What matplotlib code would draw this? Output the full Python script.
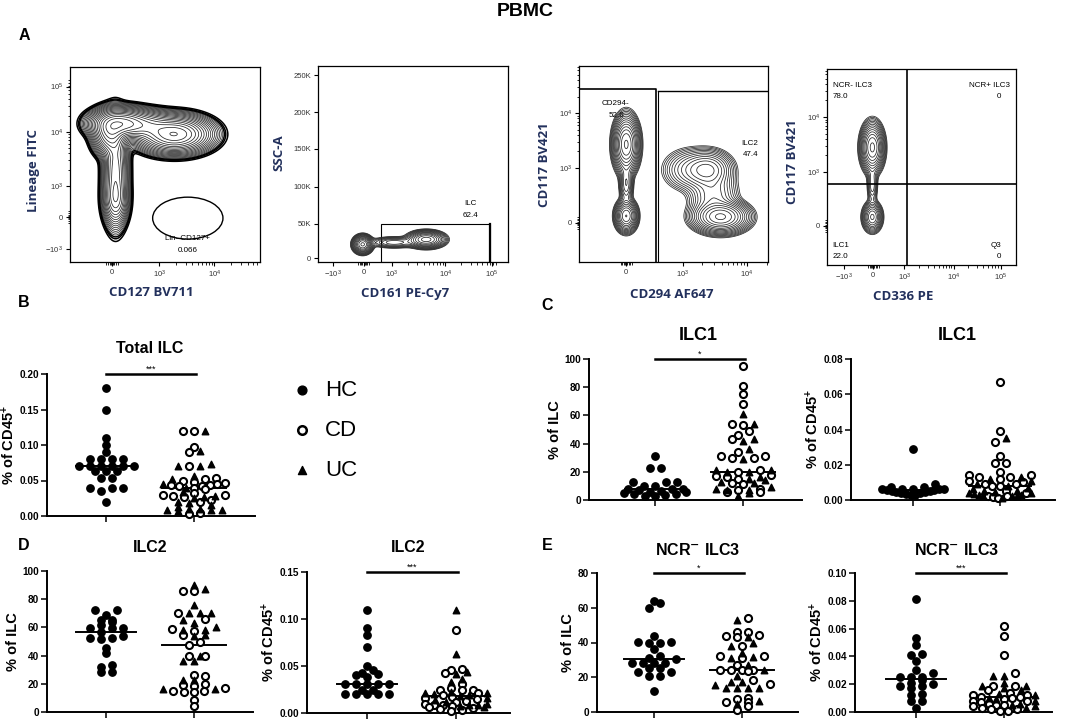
import numpy as np
import matplotlib
matplotlib.use("Agg")
import matplotlib.pyplot as plt
from matplotlib.patches import Ellipse, Rectangle

plt.rcParams["font.family"] = ["Liberation Sans", "DejaVu Sans"]
plt.rcParams["mathtext.default"] = "regular"

W, H = 1084, 720

# ---------------- dot plot data ----------------
TOTAL_HC = [0.18, 0.15, 0.11, 0.10, 0.09, 0.08, 0.08, 0.08, 0.08, 0.07, 0.07, 0.07, 0.07,
            0.07, 0.07, 0.063, 0.063, 0.063, 0.053, 0.053, 0.04, 0.04, 0.04, 0.035, 0.02]
TOTAL_CD = [0.12, 0.12, 0.097, 0.09, 0.07, 0.053, 0.052, 0.05, 0.048, 0.046, 0.045, 0.044, 0.043,
            0.042, 0.042, 0.04, 0.038, 0.032, 0.03, 0.03, 0.028, 0.027, 0.022, 0.02, 0.004, 0.003]
TOTAL_UC = [0.12, 0.092, 0.073, 0.07, 0.07, 0.057, 0.052, 0.045, 0.04, 0.034, 0.028, 0.027,
            0.025, 0.02, 0.018, 0.015, 0.013, 0.01, 0.01, 0.009, 0.009, 0.008, 0.007]

ILC1_ILC_HC = [31.5, 22.5, 22.5, 12.5, 12.5, 12.5, 10, 10, 8, 8, 7.5, 7, 6.5, 6, 5.5, 5, 4.5, 4, 3.5, 3, 2.5]
ILC1_ILC_CD = [95, 81, 75, 68, 54, 53, 49, 46, 43, 34, 31, 31, 30, 30, 21, 20, 18, 17, 16, 15,
               12, 11, 8, 7, 6, 6]
ILC1_ILC_UC = [61, 54, 43, 42, 36, 29, 21, 21, 20, 20, 16, 15, 14, 13, 12, 9, 8, 7, 7, 5, 3]

ILC1_CD45_HC = [0.029, 0.009, 0.0075, 0.0075, 0.0065, 0.0065, 0.006, 0.006, 0.006, 0.0055, 0.0055,
                0.005, 0.005, 0.0045, 0.0045, 0.004, 0.004, 0.0035, 0.003, 0.003]
ILC1_CD45_CD = [0.067, 0.039, 0.033, 0.025, 0.021, 0.021, 0.016, 0.014, 0.014, 0.013, 0.013, 0.012,
                0.011, 0.01, 0.009, 0.009, 0.008, 0.008, 0.005, 0.004, 0.002, 0.002, 0.0015, 0.001]
ILC1_CD45_UC = [0.035, 0.013, 0.012, 0.011, 0.009, 0.008, 0.007, 0.006, 0.005, 0.005, 0.0045, 0.004,
                0.004, 0.0035, 0.003, 0.003, 0.0025, 0.002, 0.002, 0.001]

ILC2_ILC_HC = [72, 72, 69, 65.5, 65.5, 64, 62, 59.5, 59.5, 59.5, 56.7, 54, 52.5, 52.5, 52,
               45.5, 42, 33.5, 32, 28.5, 28.5]
ILC2_ILC_CD = [86, 85.5, 70.5, 66, 59, 57.5, 54.5, 49.5, 47.5, 40, 39.5, 26.5, 25.5, 20, 19,
               18.5, 17, 15, 15, 14.5, 14.5, 8.5, 4]
ILC2_ILC_UC = [90, 87, 76, 70.5, 70, 70, 65, 63, 60, 58.5, 58, 54.5, 54, 40, 36.5, 36.5,
               22.5, 22.5, 16, 16]

ILC2_CD45_HC = [0.11, 0.09, 0.083, 0.07, 0.05, 0.046, 0.043, 0.042, 0.04, 0.038, 0.031, 0.031,
                0.031, 0.031, 0.031, 0.025, 0.025, 0.02, 0.02, 0.02, 0.02, 0.02]
ILC2_CD45_CD = [0.088, 0.047, 0.046, 0.043, 0.031, 0.027, 0.025, 0.025, 0.024, 0.021, 0.019, 0.017,
                0.016, 0.015, 0.013, 0.012, 0.01, 0.009, 0.008, 0.007, 0.006, 0.005, 0.004, 0.003, 0.002]
ILC2_CD45_UC = [0.11, 0.063, 0.044, 0.041, 0.036, 0.033, 0.022, 0.021, 0.021, 0.02, 0.019, 0.018,
                0.016, 0.014, 0.012, 0.01, 0.009, 0.008, 0.007, 0.006]

NCR_ILC_HC = [64, 62.5, 60, 44, 40.5, 40.5, 39.5, 39.5, 36.5, 32.5, 31, 30.5, 28.3, 28.3, 28.3,
              28.3, 25.5, 25.5, 23, 23, 20.5, 20.5, 12]
NCR_ILC_CD = [54, 46, 46, 44.5, 43.5, 43, 38, 32, 32, 31, 27, 24, 24, 24, 24, 23.5, 18.5, 16,
              8, 7.5, 6, 6, 3.5, 1]
NCR_ILC_UC = [53, 43, 40, 38, 34, 31.5, 31, 27, 24, 21, 17.5, 17.5, 15.5, 14, 14, 14, 14, 6.5, 4.5]

NCR_CD45_HC = [0.081, 0.053, 0.048, 0.042, 0.041, 0.037, 0.03, 0.028, 0.025, 0.025, 0.025, 0.023,
               0.021, 0.02, 0.019, 0.019, 0.017, 0.013, 0.012, 0.008, 0.008, 0.003]
NCR_CD45_CD = [0.062, 0.055, 0.041, 0.028, 0.019, 0.019, 0.016, 0.014, 0.012, 0.012, 0.011, 0.011,
               0.01, 0.009, 0.008, 0.008, 0.007, 0.006, 0.005, 0.005, 0.004, 0.003, 0.002, 0.002,
               0.001, 0.001]
NCR_CD45_UC = [0.026, 0.026, 0.021, 0.019, 0.019, 0.017, 0.016, 0.013, 0.012, 0.01, 0.009, 0.008,
               0.006, 0.005, 0.004, 0.003]

LEGEND_LABELS = ["HC", "CD", "UC"]

# ---------------- flow cytometry panels (blob centres / spreads / weights in axes fractions) -----
F1_X = [0.27, 0.21, 0.55, 0.40, 0.24, 0.24]
F1_Y = [0.71, 0.66, 0.655, 0.70, 0.47, 0.32]
F1_SX = [0.07, 0.04, 0.085, 0.07, 0.03, 0.03]
F1_SY = [0.035, 0.05, 0.042, 0.035, 0.12, 0.06]
F1_W = [1.0, 0.6, 0.9, 0.35, 0.35, 0.25]

F2_X = [0.235, 0.57, 0.40]
F2_Y = [0.09, 0.115, 0.10]
F2_SX = [0.023, 0.045, 0.06]
F2_SY = [0.021, 0.02, 0.014]
F2_W = [1.0, 0.8, 0.2]

F3_X = [0.25, 0.25, 0.25, 0.75, 0.68, 0.58, 0.71]
F3_Y = [0.60, 0.235, 0.40, 0.23, 0.47, 0.47, 0.34]
F3_SX = [0.03, 0.026, 0.017, 0.065, 0.06, 0.065, 0.06]
F3_SY = [0.064, 0.036, 0.05, 0.036, 0.045, 0.05, 0.06]
F3_W = [1.0, 0.7, 0.2, 1.0, 0.4, 0.14, 0.18]

F4_X = [0.24, 0.24, 0.24]
F4_Y = [0.60, 0.245, 0.41]
F4_SX = [0.028, 0.024, 0.014]
F4_SY = [0.057, 0.035, 0.05]
F4_W = [1.0, 0.55, 0.15]

LABEL_COLOR = "#22305c"

fig = plt.figure(figsize=(W / 100, H / 100), dpi=100)


def px_rect(l, t, r, b):
    return [l / W, 1 - b / H, (r - l) / W, (b - t) / H]


def ftext(x, y, s, **kw):
    fig.text(x / W, 1 - y / H, s, **kw)


def decade_minors(pos, zero):
    out = []
    step = pos[1] - pos[0]
    ext = list(pos) + [pos[-1] + step]
    for a, b in zip(ext[:-1], ext[1:]):
        for m in range(2, 10):
            out.append(a + np.log10(m) * (b - a))
    if zero is not None:
        out += [zero + d for d in (-0.03, -0.02, -0.012, -0.006, 0.006, 0.012, 0.02, 0.03)]
    return [p for p in out if 0 <= p <= 1]


def flow_axes(rect, xt, xl, yt, yl, bx, by, bsx, bsy, bw, xdec, ydec, xzero, yzero,
              lo=0.02, nlev=14):
    ax = fig.add_axes(px_rect(*rect))
    ax.set_xlim(0, 1)
    ax.set_ylim(0, 1)
    gx, gy = np.meshgrid(np.linspace(0, 1, 300), np.linspace(0, 1, 300))
    dens = np.zeros_like(gx)
    for cx, cy, sx, sy, w in zip(bx, by, bsx, bsy, bw):
        dens += w * np.exp(-0.5 * (((gx - cx) / sx) ** 2 + ((gy - cy) / sy) ** 2))
    levels = dens.max() * np.geomspace(lo, 0.92, nlev)
    ax.contour(gx, gy, dens, levels=levels, colors="#262626", linewidths=0.55)
    ax.set_xticks(xt, xl, fontsize=5.5, color="#333333")
    ax.set_yticks(yt, yl, fontsize=5.5, color="#333333")
    ax.set_xticks(decade_minors(xdec, xzero), minor=True)
    ax.set_yticks(decade_minors(ydec, yzero), minor=True)
    ax.tick_params(which="major", length=3, width=0.8, pad=2)
    ax.tick_params(which="minor", length=1.8, width=0.6)
    for s in ax.spines.values():
        s.set_linewidth(0.9)
    return ax, gx, gy, dens


# ---- A1: Lineage FITC vs CD127 BV711
a1, gx, gy, d1 = flow_axes((70, 67, 260, 262), [0.22, 0.47, 0.76], ["0", "$10^3$", "$10^4$"],
                           [0.067, 0.23, 0.39, 0.667, 0.90],
                           ["$-10^3$", "0", "$10^3$", "$10^4$", "$10^5$"],
                           F1_X, F1_Y, F1_SX, F1_SY, F1_W, [0.47, 0.76], [0.39, 0.667], 0.22, 0.23,
                           lo=0.008, nlev=18)
# dense outer edge of the population
a1.contour(gx, gy, d1, levels=d1.max() * np.array([0.003, 0.0045, 0.006]), colors="k", linewidths=1.1)
a1.add_patch(Ellipse((0.62, 0.225), 0.37, 0.215, fill=False, lw=1.0, color="k"))
a1.text(0.62, 0.118, "Lin- CD127+", ha="center", va="center", fontsize=5.8)
a1.text(0.62, 0.058, "0.066", ha="center", va="center", fontsize=5.8)

# ---- A2: SSC-A vs CD161 PE-Cy7
a2, _, _, _ = flow_axes((318, 66, 508, 262), [0.08, 0.24, 0.39, 0.67, 0.915],
                        ["$-10^3$", "0", "$10^3$", "$10^4$", "$10^5$"],
                        [0.02, 0.194, 0.383, 0.577, 0.765, 0.954],
                        ["0", "50K", "100K", "150K", "200K", "250K"],
                        F2_X, F2_Y, F2_SX, F2_SY, F2_W, [0.39, 0.67], [2.0, 3.0], 0.24, None)
a2.add_patch(Rectangle((0.33, 0.0), 0.575, 0.194, fill=False, lw=0.8, color="k"))
a2.plot([0.905, 0.905], [0.0, 0.194], color="k", lw=1.6)
a2.text(0.80, 0.296, "ILC", ha="center", va="center", fontsize=5.8)
a2.text(0.80, 0.235, "62.4", ha="center", va="center", fontsize=5.8)

# ---- A3: CD117 BV421 vs CD294 AF647
a3, _, _, _ = flow_axes((579, 66, 768, 262), [0.25, 0.55, 0.89], ["0", "$10^3$", "$10^4$"],
                        [0.20, 0.48, 0.76], ["0", "$10^3$", "$10^4$"],
                        F3_X, F3_Y, F3_SX, F3_SY, F3_W, [0.55, 0.89], [0.48, 0.76], 0.25, 0.20,
                        lo=0.012, nlev=15)
a3.plot([0, 0.41, 0.41], [0.883, 0.883, 0.0], color="k", lw=1.2)
a3.plot([0.42, 1.0], [0.872, 0.872], color="k", lw=1.0)
a3.plot([0.42, 0.42], [0.0, 0.872], color="k", lw=0.8)
a3.text(0.195, 0.81, "CD294-", ha="center", va="center", fontsize=5.8)
a3.text(0.20, 0.75, "52.6", ha="center", va="center", fontsize=5.8)
a3.text(0.905, 0.607, "ILC2", ha="center", va="center", fontsize=5.8)
a3.text(0.91, 0.546, "47.4", ha="center", va="center", fontsize=5.8)

# ---- A4: CD117 BV421 vs CD336 PE
a4, _, _, _ = flow_axes((827, 69, 1016, 265), [0.09, 0.245, 0.41, 0.67, 0.92],
                        ["$-10^3$", "0", "$10^3$", "$10^4$", "$10^5$"],
                        [0.20, 0.475, 0.755], ["0", "$10^3$", "$10^4$"],
                        F4_X, F4_Y, F4_SX, F4_SY, F4_W, [0.41, 0.67], [0.475, 0.755], 0.245, 0.20)
a4.axvline(0.423, color="k", lw=1.2)
a4.axhline(0.413, color="k", lw=1.2)
a4.text(0.03, 0.915, "NCR- ILC3", ha="left", va="center", fontsize=5.8)
a4.text(0.03, 0.86, "78.0", ha="left", va="center", fontsize=5.8)
a4.text(0.97, 0.915, "NCR+ ILC3", ha="right", va="center", fontsize=5.8)
a4.text(0.92, 0.86, "0", ha="right", va="center", fontsize=5.8)
a4.text(0.03, 0.10, "ILC1", ha="left", va="center", fontsize=5.8)
a4.text(0.03, 0.045, "22.0", ha="left", va="center", fontsize=5.8)
a4.text(0.92, 0.10, "Q3", ha="right", va="center", fontsize=5.8)
a4.text(0.92, 0.045, "0", ha="right", va="center", fontsize=5.8)

flow_font = dict(fontsize=9.5, fontweight="bold", color=LABEL_COLOR, ha="center", va="center",
                 family=["Open Sans", "DejaVu Sans"])
ftext(33, 170, "Lineage FITC", rotation=90, **flow_font)
ftext(151, 293, "CD127 BV711", **flow_font)
ftext(279, 153, "SSC-A", rotation=90, **flow_font)
ftext(405, 293, "CD161 PE-Cy7", **flow_font)
ftext(544, 165, "CD117 BV421", rotation=90, **flow_font)
ftext(672, 295, "CD294 AF647", **flow_font)
ftext(793, 162, "CD117 BV421", rotation=90, **flow_font)
ftext(903, 296, "CD336 PE", **flow_font)


# ---------------- dot plots ----------------
def swarm_x(vals, ax, center, spacing_px=11.0, row_px=4.5, max_half=31.0):
    vals = np.asarray(vals, dtype=float)
    py = ax.transData.transform(np.column_stack([np.full(len(vals), center), vals]))[:, 1]
    ppu = ax.transData.transform([[1, 0]])[0, 0] - ax.transData.transform([[0, 0]])[0, 0]
    order = np.argsort(py, kind="stable")
    rows = []
    for i in order:
        if rows and py[i] - py[rows[-1][0]] < row_px:
            rows[-1].append(i)
        else:
            rows.append([i])
    xs = np.empty(len(vals))
    for row in rows:
        n = len(row)
        sp = spacing_px if n < 2 else min(spacing_px, 2 * max_half / (n - 1))
        offs = (np.arange(n) - (n - 1) / 2) * sp / ppu
        offs = offs[np.argsort(np.abs(offs), kind="stable")]
        for k, o in zip(sorted(row, key=lambda j: py[j]), offs):
            xs[k] = center + o
    return xs


def dot_panel(rect, g0, g1, ymax, yticks, ylabels, ylabel, hc, cd, uc, sig=None, row_px=4.5):
    l, t, r, b = rect
    ax = fig.add_axes(px_rect(*rect))
    ppu = g1 - g0
    ax.set_xlim(-(g0 - l) / ppu, 1 + (r - g1) / ppu)
    ax.set_ylim(0, ymax)
    for side in ("top", "right"):
        ax.spines[side].set_visible(False)
    for side in ("left", "bottom"):
        ax.spines[side].set_linewidth(1.4)
    ax.set_xticks([0, 1], ["", ""])
    ax.set_yticks(yticks, ylabels, fontsize=7.2, fontweight="bold")
    ax.tick_params(length=4, width=1.1, pad=1.5)
    ax.set_ylabel(ylabel, fontsize=10.5, fontweight="bold", labelpad=2)

    # HC
    hx = swarm_x(hc, ax, 0, row_px=row_px)
    ax.scatter(hx, hc, s=28, marker="o", color="k", clip_on=False, zorder=3)
    hm = np.median(hc)
    ax.plot([-0.34, 0.34], [hm, hm], color="k", lw=1.4, zorder=2)

    # IBD: CD (open) + UC (triangles) in one swarm
    allv = list(cd) + list(uc)
    ix = swarm_x(allv, ax, 1, row_px=row_px)
    n = len(cd)
    ax.scatter(ix[:n], cd, s=26, marker="o", facecolor="white", edgecolor="k",
               linewidths=1.5, clip_on=False, zorder=3)
    ax.scatter(ix[n:], uc, s=22, marker="^", color="k", clip_on=False, zorder=3)
    im = np.median(allv)
    ax.plot([1 - 0.36, 1 + 0.36], [im, im], color="k", lw=1.4, zorder=2)

    if sig:
        ax.plot([0, 1.02], [ymax, ymax], color="k", lw=1.8, clip_on=False)
        ax.text(0.51, ymax * 1.004, sig, ha="center", va="bottom", fontsize=6.5)
    return ax


pct45 = "% of CD45$^{+}$"
dot_panel((47, 374, 255, 516), 106, 194, 0.20, [0, 0.05, 0.10, 0.15, 0.20],
          ["0.00", "0.05", "0.10", "0.15", "0.20"], pct45, TOTAL_HC, TOTAL_CD, TOTAL_UC, "***")
dot_panel((589, 359, 802, 500), 655, 743, 100, [0, 20, 40, 60, 80, 100],
          ["0", "20", "40", "60", "80", "100"], "% of ILC", ILC1_ILC_HC, ILC1_ILC_CD,
          ILC1_ILC_UC, "*")
dot_panel((851, 359, 1055, 500), 913, 1000, 0.08, [0, 0.02, 0.04, 0.06, 0.08],
          ["0.00", "0.02", "0.04", "0.06", "0.08"], pct45, ILC1_CD45_HC, ILC1_CD45_CD,
          ILC1_CD45_UC, row_px=6)
dot_panel((47, 571, 253, 712), 106, 194, 100, [0, 20, 40, 60, 80, 100],
          ["0", "20", "40", "60", "80", "100"], "% of ILC", ILC2_ILC_HC, ILC2_ILC_CD, ILC2_ILC_UC)
dot_panel((307, 572, 510, 713), 367, 456, 0.15, [0, 0.05, 0.10, 0.15],
          ["0.00", "0.05", "0.10", "0.15"], pct45, ILC2_CD45_HC, ILC2_CD45_CD, ILC2_CD45_UC, "***")
dot_panel((597, 573, 798, 712), 654, 742, 80, [0, 20, 40, 60, 80],
          ["0", "20", "40", "60", "80"], "% of ILC", NCR_ILC_HC, NCR_ILC_CD, NCR_ILC_UC, "*")
dot_panel((855, 573, 1052, 712), 916, 1004, 0.10, [0, 0.02, 0.04, 0.06, 0.08, 0.10],
          ["0.00", "0.02", "0.04", "0.06", "0.08", "0.10"], pct45, NCR_CD45_HC, NCR_CD45_CD,
          NCR_CD45_UC, "***")

# titles
tfont = dict(fontweight="bold", ha="center", va="center")
ftext(150, 348, "Total ILC", fontsize=11.5, **tfont)
ftext(698, 335, "ILC1", fontsize=13, **tfont)
ftext(957, 335, "ILC1", fontsize=13, **tfont)
ftext(150, 547, "ILC2", fontsize=11.5, **tfont)
ftext(408, 547, "ILC2", fontsize=11.5, **tfont)
ftext(698, 550, r"NCR$^{\mathbf{-}}$ ILC3", fontsize=11.5, **tfont)
ftext(957, 550, r"NCR$^{\mathbf{-}}$ ILC3", fontsize=11.5, **tfont)

# figure title & panel letters
ftext(525, 11, "PBMC", fontsize=14, **tfont)
for letter, x, y in [("A", 24, 35), ("B", 24, 302), ("C", 547, 305), ("D", 24, 545), ("E", 547, 545)]:
    ftext(x, y, letter, fontsize=11.5, fontweight="bold", ha="center", va="center")

# legend
lax = fig.add_axes([0, 0, 1, 1], facecolor="none")
lax.set_xlim(0, W)
lax.set_ylim(H, 0)
lax.axis("off")
lax.scatter([302], [390], s=40, marker="o", color="k")
lax.scatter([302], [430], s=38, marker="o", facecolor="white", edgecolor="k", linewidths=1.8)
lax.scatter([302], [470], s=34, marker="^", color="k")
for lab, y in zip(LEGEND_LABELS, [390, 430, 470]):
    lax.text(325, y, lab, fontsize=16, ha="left", va="center")

fig.savefig("out.png", dpi=100)
